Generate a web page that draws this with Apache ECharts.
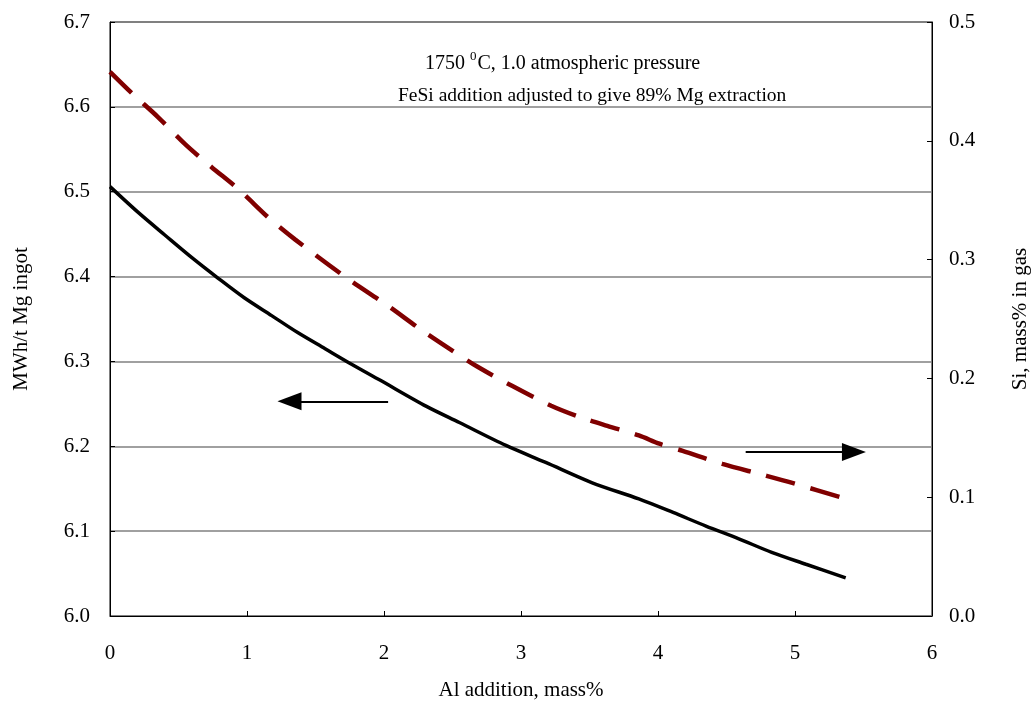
<!DOCTYPE html>
<html>
<head>
<meta charset="utf-8">
<script src="https://cdn.jsdelivr.net/npm/echarts@6/dist/echarts.min.js"></script>
<style>html,body{margin:0;padding:0;background:#fff}#c{width:1034px;height:703px}</style>
</head>
<body>
<div id="c"></div>
<script>
// Energy curve (left axis): Al addition (mass%) vs MWh/t Mg ingot
const energyX = [0, 0.21, 0.40, 0.60, 0.79, 0.98, 1.18, 1.37, 1.57, 1.76, 1.97, 2.31, 2.55, 2.89, 3.18, 3.52, 3.86, 4.11, 4.35, 4.59, 4.83, 5.08, 5.37];
const energyY = [6.506, 6.475, 6.449, 6.422, 6.398, 6.375, 6.354, 6.334, 6.315, 6.297, 6.278, 6.247, 6.228, 6.201, 6.181, 6.157, 6.138, 6.122, 6.106, 6.091, 6.075, 6.061, 6.045];
// Si in gas curve (right axis)
const siX = [0, 0.16, 0.35, 0.55, 0.74, 0.94, 1.16, 1.35, 1.71, 2.03, 2.27, 2.49, 2.68, 2.93, 3.22, 3.44, 3.63, 3.86, 4.01, 4.18, 4.47, 4.76, 4.98, 5.39];
const siY = [0.458, 0.440, 0.420, 0.397, 0.378, 0.359, 0.335, 0.317, 0.286, 0.261, 0.241, 0.224, 0.210, 0.194, 0.177, 0.167, 0.160, 0.152, 0.145, 0.139, 0.128, 0.119, 0.112, 0.098];
// Arrow annotations (data coordinates)
const leftArrow = {from: [2.03, 6.253], to: [1.31, 6.253]};
const rightArrow = {from: [4.64, 0.138], to: [5.43, 0.138]};
const note1 = '1750 ';
const note2 = 'FeSi addition adjusted to give 89% Mg extraction';

const FONT = '"Liberation Serif", "Times New Roman", serif';
const chart = echarts.init(document.getElementById('c'), null, {renderer: 'canvas'});
const pair = (xs, ys) => xs.map((x, i) => [x, ys[i]]);

chart.setOption({
  animation: false,
  backgroundColor: '#fff',
  textStyle: {fontFamily: FONT, color: '#000'},
  grid: {left: 110, right: 102, top: 22, bottom: 87, containLabel: false, outerBoundsMode: 'none',
         show: true, borderColor: '#000', borderWidth: 1},
  xAxis: {
    type: 'value', min: 0, max: 6, interval: 1,
    name: 'Al addition, mass%', nameLocation: 'middle', nameGap: 64,
    nameTextStyle: {fontFamily: FONT, fontSize: 21, color: '#000'},
    axisLine: {lineStyle: {color: '#000', width: 1}},
    axisTick: {inside: true, length: 5, lineStyle: {color: '#000'}},
    axisLabel: {fontFamily: FONT, fontSize: 21, color: '#000', margin: 27},
    splitLine: {show: false}
  },
  yAxis: [{
    type: 'value', min: 6.0, max: 6.7, interval: 0.1, position: 'left',
    name: 'MWh/t Mg ingot', nameLocation: 'middle', nameGap: 78, nameRotate: 90,
    nameTextStyle: {fontFamily: FONT, fontSize: 21, color: '#000'},
    axisLine: {show: true, lineStyle: {color: '#000', width: 1}},
    axisTick: {show: true, inside: true, length: 5, lineStyle: {color: '#000'}},
    axisLabel: {fontFamily: FONT, fontSize: 21, color: '#000', margin: 20, formatter: v => v.toFixed(1)},
    splitLine: {show: true, lineStyle: {color: '#808080', width: 1.5}}
  }, {
    type: 'value', min: 0, max: 0.5, interval: 0.1, position: 'right',
    name: 'Si, mass% in gas', nameLocation: 'middle', nameGap: 78, nameRotate: 90,
    nameTextStyle: {fontFamily: FONT, fontSize: 21, color: '#000'},
    axisLine: {show: true, lineStyle: {color: '#000', width: 1}},
    axisTick: {show: true, inside: true, length: 5, lineStyle: {color: '#000'}},
    axisLabel: {fontFamily: FONT, fontSize: 21, color: '#000', margin: 17, formatter: v => v.toFixed(1)},
    splitLine: {show: false}
  }],
  series: [{
    name: 'Energy', type: 'line', yAxisIndex: 0, showSymbol: false, smooth: 0.3,
    data: pair(energyX, energyY),
    lineStyle: {color: '#000', width: 3.5},
    markLine: {
      silent: true, symbol: ['none', 'triangle'], symbolSize: [18, 24],
      label: {show: false},
      lineStyle: {color: '#000', width: 2, type: 'solid'},
      data: [[{coord: leftArrow.from}, {coord: leftArrow.to}]]
    }
  }, {
    name: 'Si', type: 'line', yAxisIndex: 1, showSymbol: false, smooth: 0.3,
    data: pair(siX, siY),
    lineStyle: {color: '#800000', width: 4.5, type: [30, 16]},
    markLine: {
      silent: true, symbol: ['none', 'triangle'], symbolSize: [18, 24],
      label: {show: false},
      lineStyle: {color: '#000', width: 2, type: 'solid'},
      data: [[{coord: rightArrow.from}, {coord: rightArrow.to}]]
    }
  }],
  graphic: [{
    type: 'text', left: 425, top: 50,
    style: {
      text: '{n|' + note1 + '}{s|0}{n|C, 1.0 atmospheric pressure}',
      rich: {
        n: {fontFamily: FONT, fontSize: 20, fill: '#000', verticalAlign: 'bottom', lineHeight: 24},
        s: {fontFamily: FONT, fontSize: 13, fill: '#000', verticalAlign: 'top', lineHeight: 24, padding: [0, 1, 12, 0]}
      }
    }
  }, {
    type: 'text', left: 398, top: 86,
    style: {text: note2, fontFamily: FONT, fontSize: 19.5, fill: '#000'}
  }]
});
</script>
</body>
</html>
